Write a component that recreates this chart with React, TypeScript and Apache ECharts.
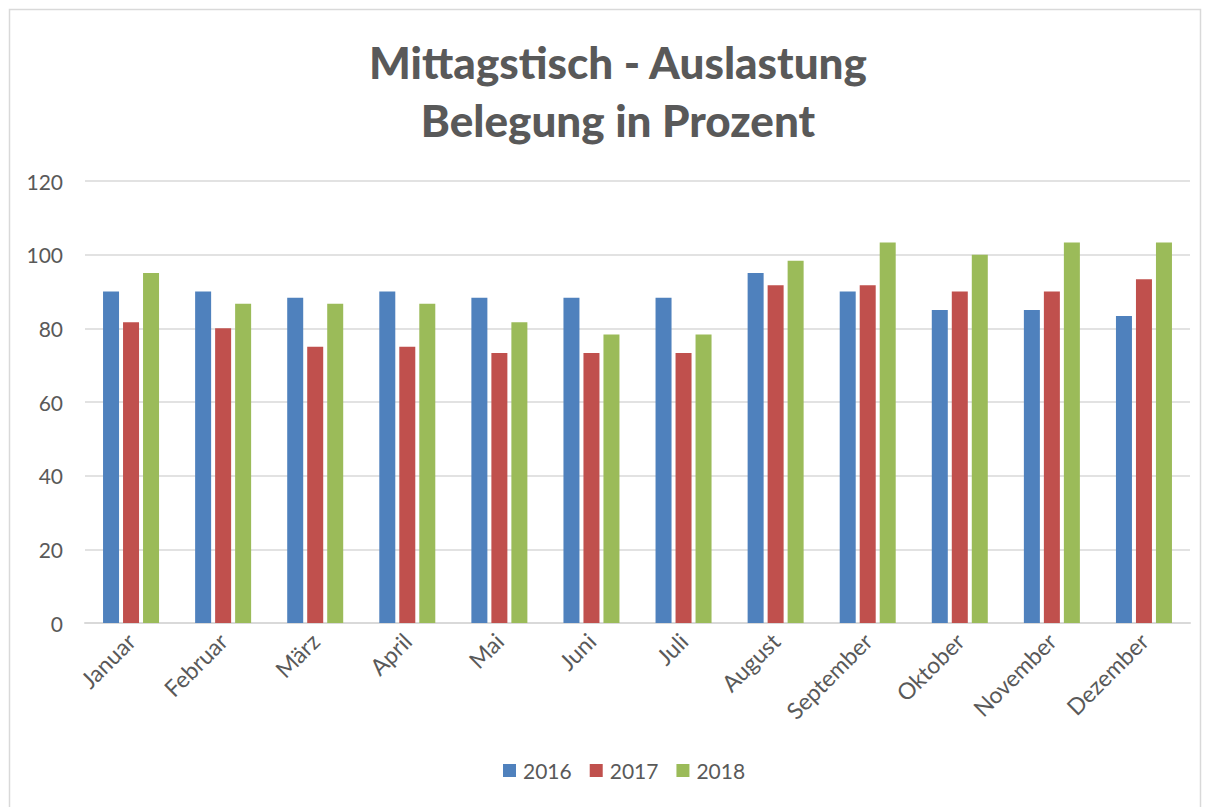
import React, { useEffect, useRef } from "react";
import * as echarts from "echarts";

const months = ["Januar", "Februar", "März", "April", "Mai", "Juni", "Juli", "August", "September", "Oktober", "November", "Dezember"];
const years = ["2016", "2017", "2018"];
const values2016 = [90, 90, 88.33, 90, 88.33, 88.33, 88.33, 95, 90, 85, 85, 83.33];
const values2017 = [81.67, 80, 75, 75, 73.33, 73.33, 73.33, 91.67, 91.67, 90, 90, 93.33];
const values2018 = [95, 86.67, 86.67, 86.67, 81.67, 78.33, 78.33, 98.33, 103.33, 100, 103.33, 103.33];
const colors = ["#4F81BD", "#C0504D", "#9BBB59"];
const yTicks = [0, 20, 40, 60, 80, 100, 120];

const FONT = "Lato, 'Open Sans', sans-serif";

export default function App() {
  const ref = useRef<HTMLDivElement>(null);
  useEffect(() => {
    if (!ref.current) return;
    const chart = echarts.init(ref.current, undefined, { renderer: "svg" });
    const seriesData = [values2016, values2017, values2018];
    chart.setOption({
      animation: false,
      backgroundColor: "#FFFFFF",
      textStyle: { fontFamily: FONT },
      title: {
        text: "Mittagstisch - Auslastung\nBelegung in Prozent",
        left: 613,
        textAlign: "center",
        top: 28,
        textStyle: {
          fontFamily: FONT,
          fontSize: 44,
          fontWeight: 900,
          color: "#595959",
          lineHeight: 58,
        },
      },
      legend: {
        data: years,
        bottom: 21,
        left: 498,
        itemWidth: 13,
        itemHeight: 13,
        itemGap: 18,
        icon: "rect",
        textStyle: { fontFamily: FONT, fontSize: 21, color: "#595959", padding: [0, 0, 0, 2] },
      },
      graphic: [
        {
          type: "rect",
          shape: { x: 9.5, y: 9.5, width: 1191, height: 820 },
          style: { fill: "none", stroke: "#D9D9D9", lineWidth: 1.5 },
          silent: true,
        },
      ],
      grid: { left: 85, right: 17, top: 181, bottom: 184, containLabel: false },
      xAxis: {
        type: "category",
        data: months,
        axisLine: { lineStyle: { color: "#D9D9D9", width: 2 } },
        axisTick: { show: false },
        axisLabel: {
          rotate: 45,
          interval: 0,
          margin: 14,
          fontFamily: FONT,
          fontSize: 23,
          color: "#595959",
        },
      },
      yAxis: {
        type: "value",
        min: yTicks[0],
        max: yTicks[yTicks.length - 1],
        interval: 20,
        axisLine: { show: false },
        axisTick: { show: false },
        splitLine: { lineStyle: { color: "#D9D9D9", width: 1.5 } },
        axisLabel: {
          margin: 22,
          fontFamily: FONT,
          fontSize: 21,
          color: "#595959",
        },
      },
      series: years.map((y, i) => ({
        name: y,
        type: "bar",
        data: seriesData[i],
        barWidth: 16,
        barGap: "25%",
        itemStyle: { color: colors[i] },
      })),
    });
    return () => chart.dispose();
  }, []);
  return (
    <div
      ref={ref}
      style={{ position: "fixed", left: 0, top: 0, width: 1207, height: 807 }}
    />
  );
}
